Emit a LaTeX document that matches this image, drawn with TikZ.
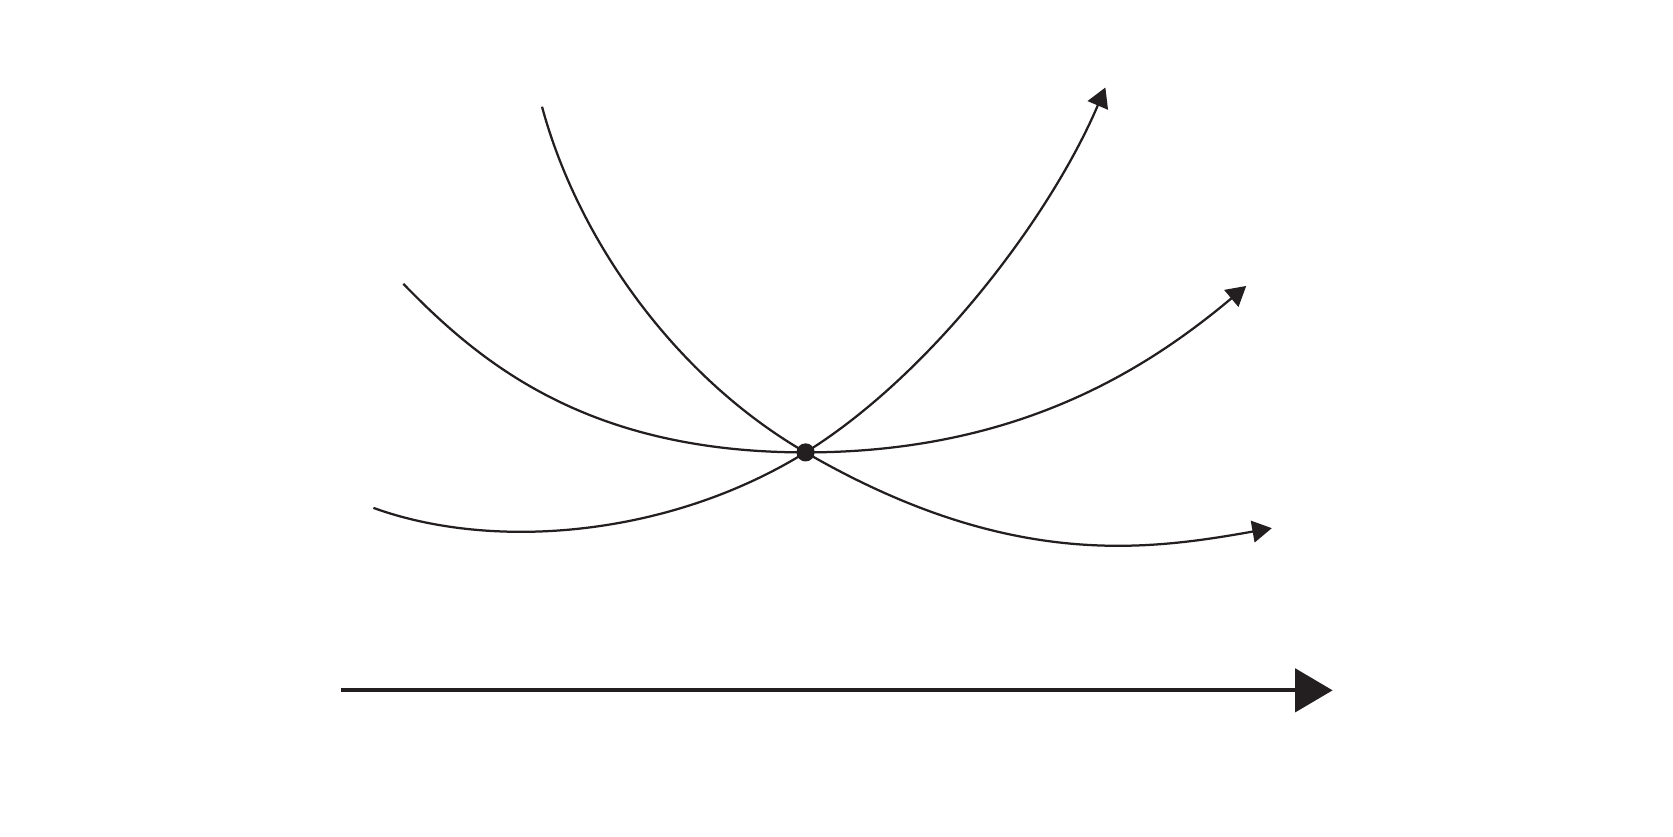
\documentclass[tikz,border=0pt]{standalone}
\usetikzlibrary{arrows.meta}
\definecolor{ink}{RGB}{35,31,32}

\begin{document}
\begin{tikzpicture}[
  curvearrow/.style={ink,line width=0.6pt,-{Triangle[length=5.2pt,width=5.8pt]}},
  axisarrow/.style={ink,line width=1.1pt,-{Triangle[length=10pt,width=11.5pt]}}]
\useasboundingbox (0,0) rectangle (15.68,7.84);
\coordinate (O) at (7.55,3.60);
%曲線の端点
\coordinate (A1) at (5.08,6.84);
\coordinate (A2) at (11.92,2.89);
\coordinate (B1) at (3.50,3.08);
\coordinate (B2) at (10.36,7.02);
\coordinate (C1) at (3.78,5.18);
\coordinate (C2) at (11.68,5.16);

%Oを通る3本の曲線
\draw[curvearrow] (A1) .. controls +(0.34,-1.26) and +(-1.21,0.70) .. (O)
  .. controls +(1.90,-1.10) and +(-1.18,-0.21) .. (A2);
\draw[curvearrow] (B1) .. controls +(1.13,-0.41) and +(-1.275,-0.79) .. (O)
  .. controls +(1.19,0.74) and +(-0.51,-1.20) .. (B2);
\draw[curvearrow] (C1) .. controls +(0.72,-0.74) and +(-2.05,0) .. (O)
  .. controls +(2.0,0) and +(-0.92,-0.77) .. (C2);
\fill[ink] (O) circle (0.085);

%下の矢印
\coordinate (S) at (3.20,1.37);
\coordinate (E) at (12.49,1.37);
\draw[axisarrow] (S) -- (E);
\end{tikzpicture}
\end{document}
